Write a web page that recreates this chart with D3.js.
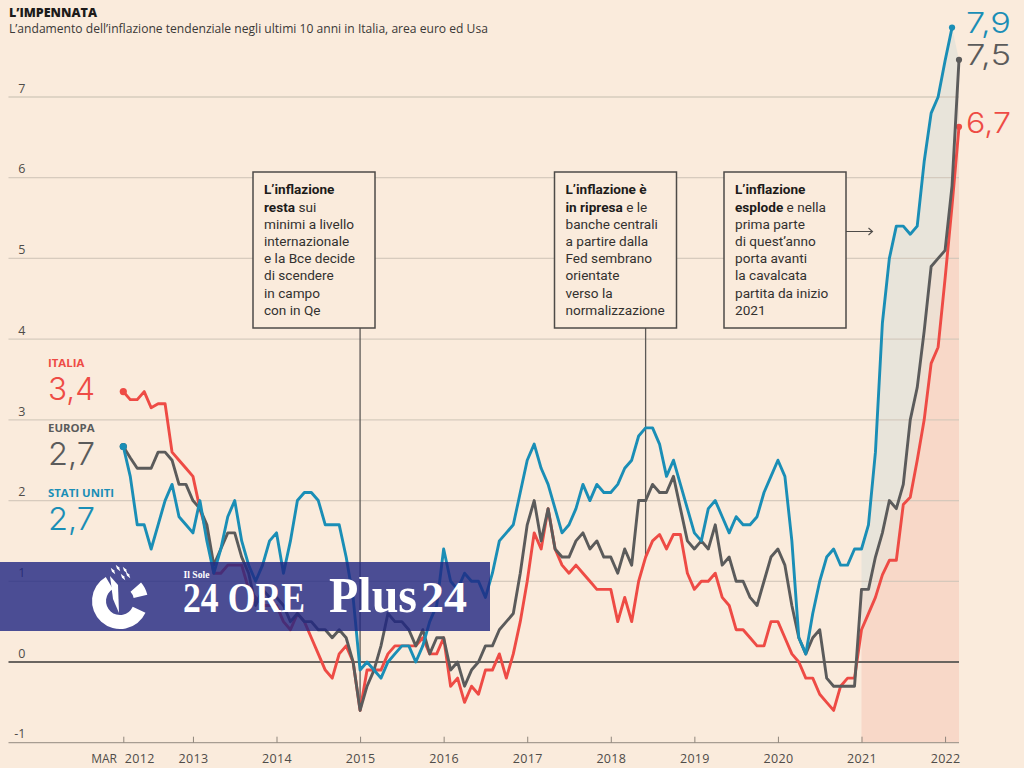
<!DOCTYPE html>
<html>
<head>
<meta charset="utf-8">
<style>
    html, body { margin: 0; padding: 0; background: #faebdc; }
    svg { display: block; }
</style>
</head>
<body>
<div id="chart"></div>
<script src="https://cdn.jsdelivr.net/npm/d3@7"></script>
<script>
    // monthly inflation, one value per month from March 2012 to March 2022
    var italia = [
        3.35, 3.25, 3.25, 3.35, 3.15, 3.2, 3.2, 2.6, 2.5, 2.4,
        2.3, 1.9, 1.6, 1.1, 1.1, 1.2, 1.2, 1.2, 0.9, 0.8, 0.7, 0.7,
        0.7, 0.5, 0.4, 0.6, 0.5, 0.3, 0.1, -0.1, -0.2, 0.1, 0.2, 0,
        -0.6, -0.1, -0.1, -0.1, 0.1, 0.2, 0.2, 0.2, 0.2, 0.3, 0.1, 0.1,
        0.3, -0.3, -0.2, -0.5, -0.3, -0.4, -0.1, -0.1, 0.1, -0.2, 0.1, 0.5,
        1.0, 1.6, 1.4, 1.9, 1.4, 1.2, 1.1, 1.2, 1.1, 1.0, 0.9, 0.9,
        0.9, 0.5, 0.8, 0.5, 1.0, 1.3, 1.5, 1.58, 1.4, 1.58, 1.58, 1.1,
        0.9, 1.0, 1.0, 1.1, 0.8, 0.7, 0.4, 0.4, 0.3, 0.2, 0.2, 0.5,
        0.5, 0.3, 0.1, 0, -0.2, -0.2, -0.4, -0.5, -0.6, -0.3, -0.2, -0.2,
        0.4, 0.6, 0.8, 1.08, 1.26, 1.26, 1.95, 2.04, 2.5, 3.0, 3.7, 3.9,
        4.75, 5.65, 6.63
    ];
    var europa = [
        2.67, 2.53, 2.4, 2.4, 2.4, 2.6, 2.6, 2.5, 2.2, 2.2,
        2.0, 1.9, 1.7, 1.2, 1.4, 1.6, 1.6, 1.3, 1.1, 0.7, 0.9, 0.8,
        0.8, 0.7, 0.5, 0.6, 0.5, 0.5, 0.4, 0.4, 0.3, 0.4, 0.3, 0,
        -0.6, -0.3, -0.1, 0.2, 0.6, 0.5, 0.5, 0.4, 0.2, 0.4, 0.1, 0.3,
        0.3, -0.1, 0, -0.3, -0.1, 0, 0.2, 0.2, 0.4, 0.5, 0.6, 1.1,
        1.7, 2.0, 1.5, 1.9, 1.4, 1.3, 1.3, 1.5, 1.6, 1.4, 1.5, 1.3,
        1.3, 1.1, 1.4, 1.2, 2.0, 2.0, 2.2, 2.1, 2.1, 2.3, 1.9, 1.5,
        1.4, 1.5, 1.4, 1.7, 1.2, 1.3, 1.0, 1.0, 0.8, 0.7, 1.0, 1.3,
        1.4, 1.2, 0.7, 0.3, 0.1, 0.3, 0.4, -0.2, -0.3, -0.3, -0.3, -0.3,
        0.9, 0.9, 1.3, 1.6, 2.0, 1.9, 2.2, 3.0, 3.4, 4.1, 4.9, 5.0,
        5.1, 5.9, 7.46
    ];
    // Stati Uniti stops one month earlier, at February 2022
    var statiUniti = [
        2.67, 2.3, 1.7, 1.7, 1.4, 1.7, 2.0, 2.2, 1.8, 1.7,
        1.6, 2.0, 1.5, 1.1, 1.4, 1.8, 2.0, 1.5, 1.2, 1.0, 1.2, 1.5,
        1.6, 1.1, 1.5, 2.0, 2.1, 2.1, 2.0, 1.7, 1.7, 1.7, 1.3, 0.8,
        -0.1, 0, -0.1, -0.2, 0, 0.1, 0.2, 0.2, 0, 0.2, 0.5, 0.7,
        1.4, 1.0, 0.9, 1.1, 1.0, 1.0, 0.8, 1.1, 1.5, 1.6, 1.7, 2.1,
        2.5, 2.7, 2.4, 2.2, 1.9, 1.6, 1.7, 1.9, 2.2, 2.0, 2.2, 2.1,
        2.1, 2.2, 2.4, 2.5, 2.8, 2.9, 2.9, 2.7, 2.3, 2.5, 2.2, 1.9,
        1.6, 1.5, 1.9, 2.0, 1.8, 1.6, 1.8, 1.7, 1.7, 1.8, 2.1, 2.3,
        2.5, 2.3, 1.5, 0.3, 0.1, 0.6, 1.0, 1.3, 1.4, 1.2, 1.2, 1.4,
        1.4, 1.7, 2.6, 4.2, 5.0, 5.4, 5.4, 5.3, 5.4, 6.2, 6.8, 7.0,
        7.45, 7.86
    ];

    var yTicks = [-1, 0, 1, 2, 3, 4, 5, 6, 7];
    var years = [2012, 2013, 2014, 2015, 2016, 2017, 2018, 2019, 2020, 2021, 2022];

    var boxes = [
        { month: 34, value: -0.6, lines: [[['L\u2019inflazione', true]], [['resta', true], [' sui', false]], [['minimi a livello', false]], [['internazionale', false]], [['e la Bce decide', false]], [['di scendere', false]], [['in campo', false]], [['con in Qe', false]]] },
        { month: 75, value: 1.3, lines: [[['L\u2019inflazione \u00e8', true]], [['in ripresa', true], [' e le', false]], [['banche centrali', false]], [['a partire dalla', false]], [['Fed sembrano', false]], [['orientate', false]], [['verso la', false]], [['normalizzazione', false]]] },
        { lines: [[['L\u2019inflazione', true]], [['esplode', true], [' e nella', false]], [['prima parte', false]], [['di quest\u2019anno', false]], [['porta avanti', false]], [['la cavalcata', false]], [['partita da inizio', false]], [['2021', false]]] }
    ];
    var boxLeft = [253, 554.5, 724];

    var width = 1024, height = 768;
    var red = '#ee4b45', gray = '#5b5b5b', blue = '#1a8eb6', bg = '#faebdc';
    var START_2021 = 106;
    var sans = '"Open Sans", sans-serif';

    var svg = d3.select('#chart').append('svg')
        .attr('width', width)
        .attr('height', height)
        .attr('font-family', sans)
        .style('background', bg);

    var x = d3.scaleLinear().domain([0, 120]).range([123.3, 959]);
    var y = d3.scaleLinear().domain([-1, 7]).range([742.7, 97]);

    function monthOfYear(yr) {
        return yr === 2012 ? 0 : (yr - 2012) * 12 - 2;
    }

    // shaded bands since January 2021
    var recent = d3.range(START_2021, 121);
    function blueAt(i) { return i < statiUniti.length ? statiUniti[i] : europa[i]; }

    function band(top, bottom, fill) {
        svg.append('path')
            .datum(recent)
            .attr('fill', fill)
            .attr('d', d3.area()
                .x(function (i) { return x(i); })
                .y0(function (i) { return y(bottom(i)); })
                .y1(function (i) { return y(top(i)); }));
    }
    band(function (i) { return italia[i]; }, function () { return -1; }, '#f8d8c8');
    band(function (i) { return europa[i]; }, function (i) { return italia[i]; }, '#eee0d3');
    band(blueAt, function (i) { return europa[i]; }, '#e8e4da');

    // grid
    svg.append('g').selectAll('line')
        .data(yTicks)
        .join('line')
        .attr('x1', 8.5)
        .attr('x2', 959)
        .attr('y1', function (d) { return y(d); })
        .attr('y2', function (d) { return y(d); })
        .attr('stroke', function (d) { return d === 0 ? '#6a6560' : d === -1 ? '#a79d92' : '#d0c5b8'; })
        .attr('stroke-opacity', function (d) { return d === 0 || d === -1 ? 1 : 0.85; })
        .attr('stroke-width', function (d) { return d === 0 ? 1.9 : 1.3; });

    svg.append('g').selectAll('text')
        .data(yTicks)
        .join('text')
        .attr('x', 25.5)
        .attr('y', function (d) { return y(d) - 4.3; })
        .attr('text-anchor', 'end')
        .attr('font-size', 12.5)
        .attr('fill', '#4f4c49')
        .text(function (d) { return d; });

    // x axis
    var axis = d3.axisBottom(x)
        .tickValues(years.map(monthOfYear))
        .tickSize(-6)
        .tickPadding(0)
        .tickFormat(function (d, i) { return years[i]; });
    var axisG = svg.append('g')
        .attr('transform', 'translate(0,' + y(-1) + ')')
        .call(axis);
    axisG.select('.domain').remove();
    axisG.selectAll('.tick line').attr('stroke', '#8f867c').attr('stroke-width', 1);
    axisG.selectAll('.tick text')
        .attr('y', 20)
        .attr('dy', 0)
        .attr('font-family', sans)
        .attr('font-size', 12.5)
        .attr('letter-spacing', 0.3)
        .attr('fill', '#4f4c49')
        .attr('text-anchor', function (d) { return d === 0 ? 'start' : 'middle'; })
        .attr('dx', function (d) { return d === 0 ? 1 : 0; });
    svg.append('text')
        .attr('x', 117)
        .attr('y', y(-1) + 20)
        .attr('text-anchor', 'end')
        .attr('font-size', 12)
        .attr('fill', '#4f4c49')
        .text('MAR');

    // leader lines from the boxes
    boxes.slice(0, 2).forEach(function (b) {
        svg.append('line')
            .attr('x1', x(b.month))
            .attr('x2', x(b.month))
            .attr('y1', 328)
            .attr('y2', y(b.value))
            .attr('stroke', '#5c5956')
            .attr('stroke-width', 1.3);
    });

    // series
    var line = d3.line()
        .x(function (d, i) { return x(i); })
        .y(function (d) { return y(d); });

    [[italia, red], [europa, gray], [statiUniti, blue]].forEach(function (s) {
        svg.append('path')
            .datum(s[0])
            .attr('fill', 'none')
            .attr('stroke', s[1])
            .attr('stroke-width', 2.9)
            .attr('stroke-linejoin', 'round')
            .attr('d', line);
        // start and end dots
        [0, s[0].length - 1].forEach(function (i) {
            svg.append('circle')
                .attr('cx', x(i))
                .attr('cy', y(s[0][i]))
                .attr('r', i === 0 ? 3.6 : 3.1)
                .attr('fill', s[1]);
        });
    });

    // annotation boxes
    boxes.forEach(function (b, n) {
        var g = svg.append('g').attr('transform', 'translate(' + boxLeft[n] + ',172)');
        g.append('rect')
            .attr('width', 122)
            .attr('height', 156)
            .attr('fill', bg)
            .attr('stroke', '#4e4b48')
            .attr('stroke-width', 1.5);
        b.lines.forEach(function (parts, i) {
            var t = g.append('text')
                .attr('x', 11)
                .attr('y', 22.3 + i * 17.2)
                .attr('font-family', 'Roboto, sans-serif')
                .attr('font-size', 13.6)
                .attr('fill', '#33312f');
            parts.forEach(function (p) {
                t.append('tspan')
                    .attr('font-weight', p[1] ? 700 : 400)
                    .attr('fill', p[1] ? '#1d1b1a' : null)
                    .text(p[0]);
            });
        });
    });

    // arrow out of the third box
    svg.append('path')
        .attr('d', 'M846,231.5H872M868.5,228L872.5,231.5L868.5,235')
        .attr('fill', 'none')
        .attr('stroke', '#4e4b48')
        .attr('stroke-width', 1.1);

    // title
    svg.append('text')
        .attr('x', 9).attr('y', 17)
        .attr('font-size', 12.5)
        .attr('font-weight', 800)
        .attr('fill', '#1d1b1a')
        .text('L\u2019IMPENNATA');
    svg.append('text')
        .attr('x', 9).attr('y', 33.3)
        .attr('font-size', 12.1)
        .attr('fill', '#3b3937')
        .text('L\u2019andamento dell\u2019inflazione tendenziale negli ultimi 10 anni in Italia, area euro ed Usa');

    // the big figures are set wide in the original, so stretch them a little
    function bigNumber(s, px, py, size, len, color) {
        svg.append('text')
            .attr('x', px).attr('y', py)
            .attr('font-family', 'Inter, sans-serif')
            .attr('font-size', size)
            .attr('font-weight', 300)
            .attr('fill', color)
            .attr('textLength', len)
            .attr('lengthAdjust', 'spacingAndGlyphs')
            .text(s);
    }

    // legend on the left
    var legendNames = ['ITALIA', 'EUROPA', 'STATI UNITI'];
    var legendValues = ['3,4', '2,7', '2,7'];
    var legendColors = [red, gray, blue];
    var legendY = [367, 432, 497];
    legendNames.forEach(function (d, i) {
        svg.append('text')
            .attr('x', 48).attr('y', legendY[i])
            .attr('font-size', 11.4)
            .attr('font-weight', 700)
            .attr('fill', legendColors[i])
            .text(d);
        bigNumber(legendValues[i], 48, legendY[i] + 32.5, 31, 47, legendColors[i]);
    });

    // end values on the right
    var endLabels = ['7,9', '7,5', '6,7'];
    var endColors = [blue, gray, red];
    var endY = [33, 65, 133];
    endLabels.forEach(function (d, i) {
        bigNumber(d, 966, endY[i], 29, 45, endColors[i]);
    });

    // publisher banner lying over the chart
    var banner = svg.append('g');
    banner.append('rect')
        .attr('x', 0).attr('y', 562)
        .attr('width', 490).attr('height', 69)
        .attr('fill', '#1f2582')
        .attr('fill-opacity', 0.8);

    var serif = '"Liberation Serif", serif';
    function bannerText(s, px, py, size, len) {
        banner.append('text')
            .attr('x', px).attr('y', py)
            .attr('font-family', serif)
            .attr('font-weight', 700)
            .attr('font-size', size)
            .attr('fill', '#fff')
            .attr('textLength', len)
            .attr('lengthAdjust', 'spacingAndGlyphs')
            .text(s);
    }
    bannerText('Il Sole', 183.5, 578, 11, 26);
    bannerText('24 ORE', 183, 611.7, 43, 122);
    bannerText('Plus', 329, 611.7, 50, 88);
    bannerText('24', 421, 612, 44, 46);

    // logo: broken ring with tower and sparks
    var logo = banner.append('g').attr('transform', 'translate(120,601)').attr('fill', '#fff');
    var ring = d3.arc().innerRadius(14).outerRadius(28);
    logo.append('path').attr('d', ring({ startAngle: 2.0, endAngle: 5.75 }));
    logo.append('path').attr('d', ring({ startAngle: 0.85, endAngle: 1.35 }));
    logo.append('path').attr('d', 'M-10,-25L-2,-16L-1,12L-7,-2Z');
    [[-7, -30], [-2, -33], [5, -31], [3, -24], [8, -26]].forEach(function (p) {
        logo.append('path')
            .attr('transform', 'translate(' + p[0] + ',' + p[1] + ') rotate(-35)')
            .attr('d', 'M0,-4L1.2,0L0,4L-1.2,0Z');
    });
</script>
</body>
</html>
